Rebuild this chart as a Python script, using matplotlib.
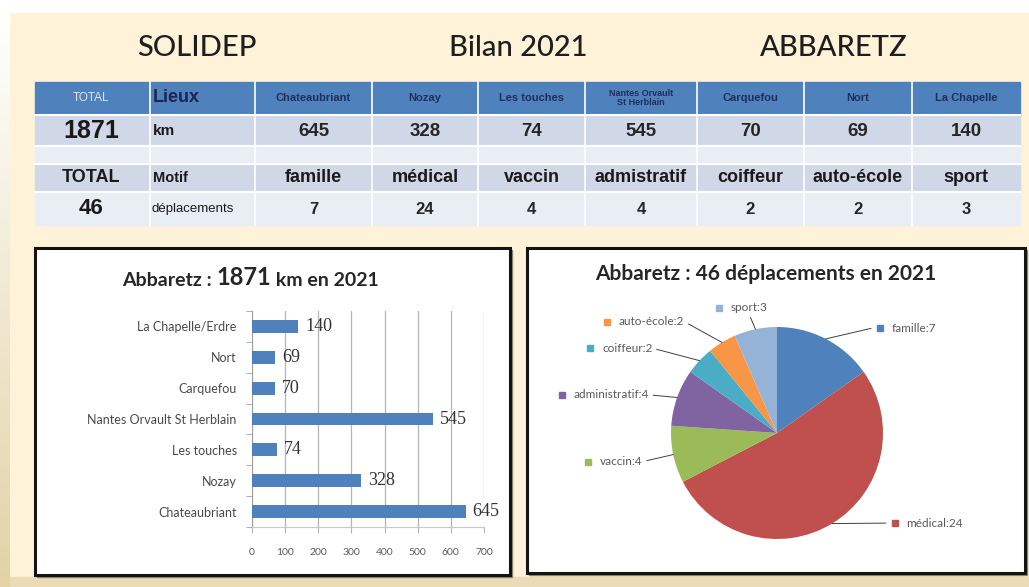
import numpy as np
import matplotlib
matplotlib.use("Agg")
import matplotlib.pyplot as plt
from matplotlib.patches import Rectangle

# Kilometres per place
lieux_table = ["Chateaubriant", "Nozay", "Les touches", "Nantes Orvault\nSt Herblain",
               "Carquefou", "Nort", "La Chapelle"]
lieux_chart = ["Chateaubriant", "Nozay", "Les touches", "Nantes Orvault St Herblain",
               "Carquefou", "Nort", "La Chapelle/Erdre"]
km = [645, 328, 74, 545, 70, 69, 140]

# Trips per reason
motifs_table = ["famille", "médical", "vaccin", "admistratif", "coiffeur", "auto-école", "sport"]
motifs_chart = ["famille", "médical", "vaccin", "administratif", "coiffeur", "auto-école", "sport"]
deplacements = [7, 24, 4, 4, 2, 2, 3]

total_km = sum(km)
total_dep = sum(deplacements)

W, H = 1029, 587
BLUE = "#4F81BD"
pie_colors = ["#4F81BD", "#C0504D", "#9BBB59", "#8064A2", "#4BACC6", "#F79646", "#95B3D7"]


def px_rect(x0, y0, x1, y1):
    return [x0 / W, 1 - y1 / H, (x1 - x0) / W, (y1 - y0) / H]


fig = plt.figure(figsize=(W / 100, H / 100), dpi=100)

# background layer in pixel coordinates
bg = fig.add_axes([0, 0, 1, 1])
bg.set_xlim(0, W)
bg.set_ylim(H, 0)
bg.axis("off")

bg.add_patch(Rectangle((0, 0), W, H, color="white", zorder=0))
bg.add_patch(Rectangle((10, 13), W - 10, 565, color="#FEF3D8", zorder=1))
bg.add_patch(Rectangle((0, 577), W, 10, color="#E9DCB6", zorder=1))
edge = np.linspace(0, 1, 100).reshape(-1, 1)
bg.imshow(edge, cmap=matplotlib.colors.LinearSegmentedColormap.from_list("edge", ["#FFFFFF", "#E2D2A6"]),
          extent=(0, 10, 587, 13), aspect="auto", zorder=1)
bg.set_xlim(0, W)
bg.set_ylim(H, 0)

title_font = dict(family="Lato", fontsize=21, weight="medium", color="#1E1E1E",
                  va="center", ha="center", zorder=5)
bg.text(197, 48, "SOLIDEP", **title_font)
bg.text(518, 48, "Bilan 2021", **title_font)
bg.text(834, 48, "ABBARETZ", **title_font)

# summary table
cols = [35, 150, 255, 372, 478, 585, 697, 804, 912, 1020]
rows = [(82, 115, BLUE), (115, 146, "#D0D8E8"), (146, 164, "#E9EDF4"),
        (164, 192, "#D0D8E8"), (192, 225, "#E9EDF4")]
for y0, y1, c in rows:
    bg.add_patch(Rectangle((cols[0], y0), cols[-1] - cols[0], y1 - y0, color=c, zorder=2))
for y0, y1, c in rows[1:]:
    bg.plot([cols[0], cols[-1]], [y0, y0], color="white", lw=1.5, zorder=3)
for x in cols[1:-1]:
    bg.plot([x, x], [82, 225], color="white", lw=1.2, zorder=3)

tf = dict(family="Liberation Sans", va="center", zorder=4)
centers = [(cols[i] + cols[i + 1]) / 2 for i in range(2, 9)]

bg.text(91, 98, "TOTAL", ha="center", fontsize=8.5, color="#DCE6F2", **tf)
bg.text(153, 97, "Lieux", ha="left", fontsize=13, weight="bold", color="#1C2452", **tf)
for x, name in zip(centers, lieux_table):
    fs = 6.5 if "\n" in name else 8
    bg.text(x, 98, name, ha="center", fontsize=fs, weight="bold", color="#1F2F5C",
            linespacing=0.95, **tf)

bg.text(91, 131, str(total_km), ha="center", fontsize=18, weight="bold", color="#1A1A1A", **tf)
bg.text(153, 131, "km", ha="left", fontsize=11, weight="bold", color="#1A1A1A", **tf)
for x, v in zip(centers, km):
    bg.text(x, 131, str(v), ha="center", fontsize=13.5, weight="bold", color="#262626", **tf)

bg.text(91, 178, "TOTAL", ha="center", fontsize=13, weight="bold", color="#1A1A1A", **tf)
bg.text(153, 178, "Motif", ha="left", fontsize=10.5, weight="bold", color="#1A1A1A", **tf)
for x, name in zip(centers, motifs_table):
    bg.text(x, 178, name, ha="center", fontsize=13, weight="bold", color="#1A1A1A", **tf)

bg.text(91, 209, str(total_dep), ha="center", fontsize=16, weight="bold", color="#1A1A1A", **tf)
bg.text(152, 209, "déplacements", ha="left", fontsize=9.5, color="#1A1A1A", **tf)
for x, v in zip(centers, deplacements):
    bg.text(x, 209, str(v), ha="center", fontsize=12, weight="bold", color="#262626", **tf)

# chart frames
for x0, y0, x1, y1 in [(35, 248, 510, 575), (527, 248, 1025, 573)]:
    bg.add_patch(Rectangle((x0 + 2, y0 + 2), x1 - x0, y1 - y0, color="#8C8670", zorder=2))
    bg.add_patch(Rectangle((x0, y0), x1 - x0, y1 - y0, facecolor="white",
                           edgecolor="#141414", lw=2.2, zorder=3))

# bar chart title with a larger total
t1 = bg.text(122, 289, "Abbaretz : ", family="Lato", fontsize=14, weight="bold",
             color="#262626", ha="left", va="bottom", zorder=5)
t2 = bg.annotate(str(total_km), xy=(1, 0), xycoords=t1, family="Lato", fontsize=17,
                 weight="bold", color="#262626", ha="left", va="bottom", zorder=5)
bg.annotate(" km en 2021", xy=(1, 0), xycoords=t2, family="Lato", fontsize=14,
            weight="bold", color="#262626", ha="left", va="bottom", zorder=5)

bg.text(766, 274, f"Abbaretz : {total_dep} déplacements en 2021", family="Lato",
        fontsize=15, weight="bold", color="#262626", ha="center", va="center", zorder=5)

# horizontal bar chart
ax_bar = fig.add_axes(px_rect(252, 311, 484, 527))
ax_bar.set_facecolor("none")
y = np.arange(len(km))
bars = ax_bar.barh(y, km, height=0.42, color=BLUE, zorder=3)
ax_bar.bar_label(bars, labels=[str(v) for v in km], padding=5, fontsize=13,
                 family="Liberation Serif", color="#333333")
ax_bar.set_xlim(0, 700)
ax_bar.set_ylim(-0.5, len(km) - 0.5)
ax_bar.set_xticks(range(0, 701, 100))
ax_bar.xaxis.grid(True, color="#B4B4B4", lw=0.9)
ax_bar.set_axisbelow(True)
ax_bar.set_yticks(y)
ax_bar.set_yticklabels(lieux_chart, family="Lato")
ax_bar.set_yticks(np.arange(-0.5, len(km), 1), minor=True)
ax_bar.tick_params(axis="y", which="major", length=0, pad=11, labelsize=9, labelcolor="#4A4A4A")
ax_bar.tick_params(axis="y", which="minor", length=4, color="#A0A0A0")
ax_bar.tick_params(axis="x", length=4, color="#B4B4B4", pad=11, labelsize=7.5, labelcolor="#5A5A5A")
for lbl in ax_bar.get_xticklabels():
    lbl.set_family("Lato")
for s in ["top", "right"]:
    ax_bar.spines[s].set_visible(False)
ax_bar.spines["left"].set_color("#A0A0A0")
ax_bar.spines["bottom"].set_color("#C8C8C8")

# pie chart, one data unit = 106 px
ax_pie = fig.add_axes(px_rect(527, 248, 1025, 573))
wedges, _ = ax_pie.pie(deplacements, colors=pie_colors, startangle=90, counterclock=False,
                       radius=1, wedgeprops=dict(linewidth=0))
ax_pie.set_xlim(-250 / 106, 248 / 106)
ax_pie.set_ylim(-140 / 106, 185 / 106)

# legend-key position of each label (data units)
key_pos = [(0.97, 0.99), (1.11, -0.85), (-1.78, -0.27), (-2.03, 0.36),
           (-1.76, 0.80), (-1.60, 1.05), (-0.55, 1.18)]
lab_font = dict(family="Lato", fontsize=8.5, color="#595959", va="center", ha="left")
lead = dict(arrowstyle="-", color="#404040", lw=0.7, shrinkA=1, shrinkB=0)
for i, w in enumerate(wedges):
    ang = np.deg2rad((w.theta1 + w.theta2) / 2)
    pt = (np.cos(ang), np.sin(ang))
    kx, ky = key_pos[i]
    label = f"{motifs_chart[i]}:{deplacements[i]}"
    ax_pie.plot(kx, ky, marker="s", ms=5, color=pie_colors[i], ls="none")
    if kx > 0:
        ax_pie.annotate("", xy=pt, xytext=(kx - 0.07, ky), arrowprops=lead)
        ax_pie.text(kx + 0.11, ky, label, **lab_font)
    else:
        rel = (0.5, 0) if motifs_chart[i] == "sport" else (1, 0.5)
        ax_pie.annotate(label, xy=pt, xytext=(kx + 0.11, ky),
                        arrowprops=dict(lead, relpos=rel), **lab_font)

fig.savefig("out.png", dpi=100)
